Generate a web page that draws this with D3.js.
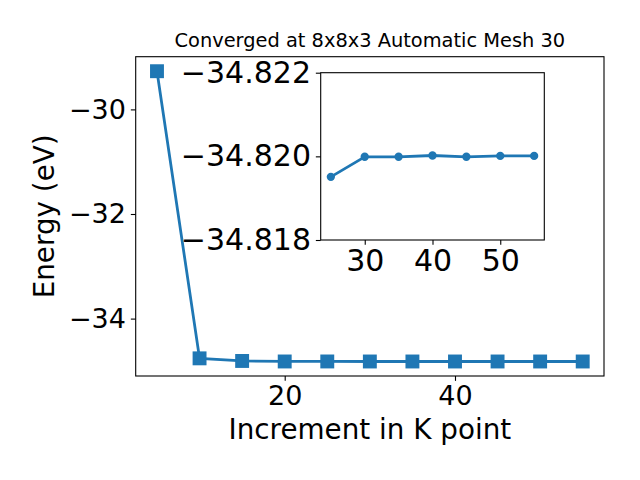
<!DOCTYPE html>
<html><head><meta charset="utf-8">
<script src="https://cdn.jsdelivr.net/npm/d3@7"></script>
<style>body{margin:0;background:#fff}svg{display:block;font-family:"DejaVu Sans",sans-serif}</style>
</head><body>
<script>
const title = "Converged at 8x8x3 Automatic Mesh 30";
const xLabel = "Increment in K point";
const yLabel = "Energy (eV)";
const kPoints = [5, 10, 15, 20, 25, 30, 35, 40, 45, 50, 55];
const energies = [-29.27, -34.76, -34.81, -34.8198, -34.8195, -34.81999, -34.8200, -34.82002, -34.81999, -34.82001, -34.82001];
const mainXTicks = [20, 40];
const mainYTicks = [-30, -32, -34];
const insetKPoints = [25, 30, 35, 40, 45, 50, 55];
const insetEnergies = [-34.81951, -34.81999, -34.81999, -34.82002, -34.81999, -34.82001, -34.82001];
const insetXTicks = [30, 40, 50];
const insetYTicks = [-34.822, -34.820, -34.818];
const insetYDomain = [-34.822, -34.818];

const W = 640, H = 480, color = "#1f77b4";
const fmt = d => String(d).replace("-", "\u2212");
const fmt3 = d => d3.format(".3f")(d).replace("-", "\u2212");

const svg = d3.select("body").append("svg").attr("width", W).attr("height", H);

// main axes
const m = {l: 135.7, r: 604, t: 56.7, b: 376};
const xExt = d3.extent(kPoints), xPad = (xExt[1] - xExt[0]) * 0.05;
const yExt = d3.extent(energies), yPad = (yExt[1] - yExt[0]) * 0.05;
const x = d3.scaleLinear().domain([xExt[0] - xPad, xExt[1] + xPad]).range([m.l, m.r]);
const y = d3.scaleLinear().domain([yExt[0] - yPad, yExt[1] + yPad]).range([m.b, m.t]);

const tickLen = 4.86, pad = 4.86;
const mainTickFont = 27, insetTickFont = 30;
svg.append("g").attr("transform", `translate(0,${m.b})`)
  .call(d3.axisBottom(x).tickValues(mainXTicks).tickFormat(fmt).tickSize(tickLen).tickPadding(pad))
  .call(g => { g.select(".domain").remove(); g.selectAll("line").attr("stroke-width", 1.1);
    g.selectAll("text").attr("font-size", mainTickFont).attr("font-family", "DejaVu Sans").attr("fill", "#000"); });
svg.append("g").attr("transform", `translate(${m.l},0)`)
  .call(d3.axisLeft(y).tickValues(mainYTicks).tickFormat(fmt).tickSize(tickLen).tickPadding(pad))
  .call(g => { g.select(".domain").remove(); g.selectAll("line").attr("stroke-width", 1.1);
    g.selectAll("text").attr("font-size", mainTickFont).attr("font-family", "DejaVu Sans").attr("fill", "#000"); });

const line = d3.line().x(d => x(d[0])).y(d => y(d[1]));
const pts = kPoints.map((k, i) => [k, energies[i]]);
svg.append("path").datum(pts).attr("d", line).attr("fill", "none").attr("stroke", color).attr("stroke-width", 2.78);
const ms = 13.9;
svg.selectAll("rect.mk").data(pts).join("rect").attr("class", "mk")
  .attr("x", d => x(d[0]) - ms / 2).attr("y", d => y(d[1]) - ms / 2)
  .attr("width", ms).attr("height", ms).attr("fill", color);

svg.append("rect").attr("x", m.l).attr("y", m.t).attr("width", m.r - m.l).attr("height", m.b - m.t)
  .attr("fill", "none").attr("stroke", "#000").attr("stroke-width", 1.1);

svg.append("text").attr("x", (m.l + m.r) / 2).attr("y", 47).attr("text-anchor", "middle")
  .attr("font-size", 19.4).text(title);
svg.append("text").attr("x", (m.l + m.r) / 2).attr("y", 439).attr("text-anchor", "middle")
  .attr("font-size", 27.8).text(xLabel);
svg.append("text").attr("transform", `translate(54,${(m.t + m.b) / 2}) rotate(-90)`).attr("text-anchor", "middle")
  .attr("font-size", 27.8).text(yLabel);

// inset axes
const n = {l: 320.7, r: 544.3, t: 72.7, b: 240};
const ixExt = d3.extent(insetKPoints), ixPad = (ixExt[1] - ixExt[0]) * 0.05;
const ix = d3.scaleLinear().domain([ixExt[0] - ixPad, ixExt[1] + ixPad]).range([n.l, n.r]);
const iy = d3.scaleLinear().domain(insetYDomain).range([n.t, n.b]);
svg.append("rect").attr("x", n.l).attr("y", n.t).attr("width", n.r - n.l).attr("height", n.b - n.t).attr("fill", "#fff");
svg.append("g").attr("transform", `translate(0,${n.b})`)
  .call(d3.axisBottom(ix).tickValues(insetXTicks).tickFormat(fmt).tickSize(tickLen).tickPadding(pad))
  .call(g => { g.select(".domain").remove(); g.selectAll("line").attr("stroke-width", 1.1);
    g.selectAll("text").attr("font-size", insetTickFont).attr("font-family", "DejaVu Sans").attr("fill", "#000"); });
svg.append("g").attr("transform", `translate(${n.l},0)`)
  .call(d3.axisLeft(iy).tickValues(insetYTicks).tickFormat(fmt3).tickSize(tickLen).tickPadding(pad))
  .call(g => { g.select(".domain").remove(); g.selectAll("line").attr("stroke-width", 1.1);
    g.selectAll("text").attr("font-size", insetTickFont).attr("font-family", "DejaVu Sans").attr("fill", "#000"); });
const ipts = insetKPoints.map((k, i) => [k, insetEnergies[i]]);
svg.append("path").datum(ipts).attr("d", d3.line().x(d => ix(d[0])).y(d => iy(d[1])))
  .attr("fill", "none").attr("stroke", color).attr("stroke-width", 2.78);
svg.selectAll("circle.mk").data(ipts).join("circle").attr("class", "mk")
  .attr("cx", d => ix(d[0])).attr("cy", d => iy(d[1])).attr("r", 4.15).attr("fill", color);
svg.append("rect").attr("x", n.l).attr("y", n.t).attr("width", n.r - n.l).attr("height", n.b - n.t)
  .attr("fill", "none").attr("stroke", "#000").attr("stroke-width", 1.1);
</script>
</body></html>
